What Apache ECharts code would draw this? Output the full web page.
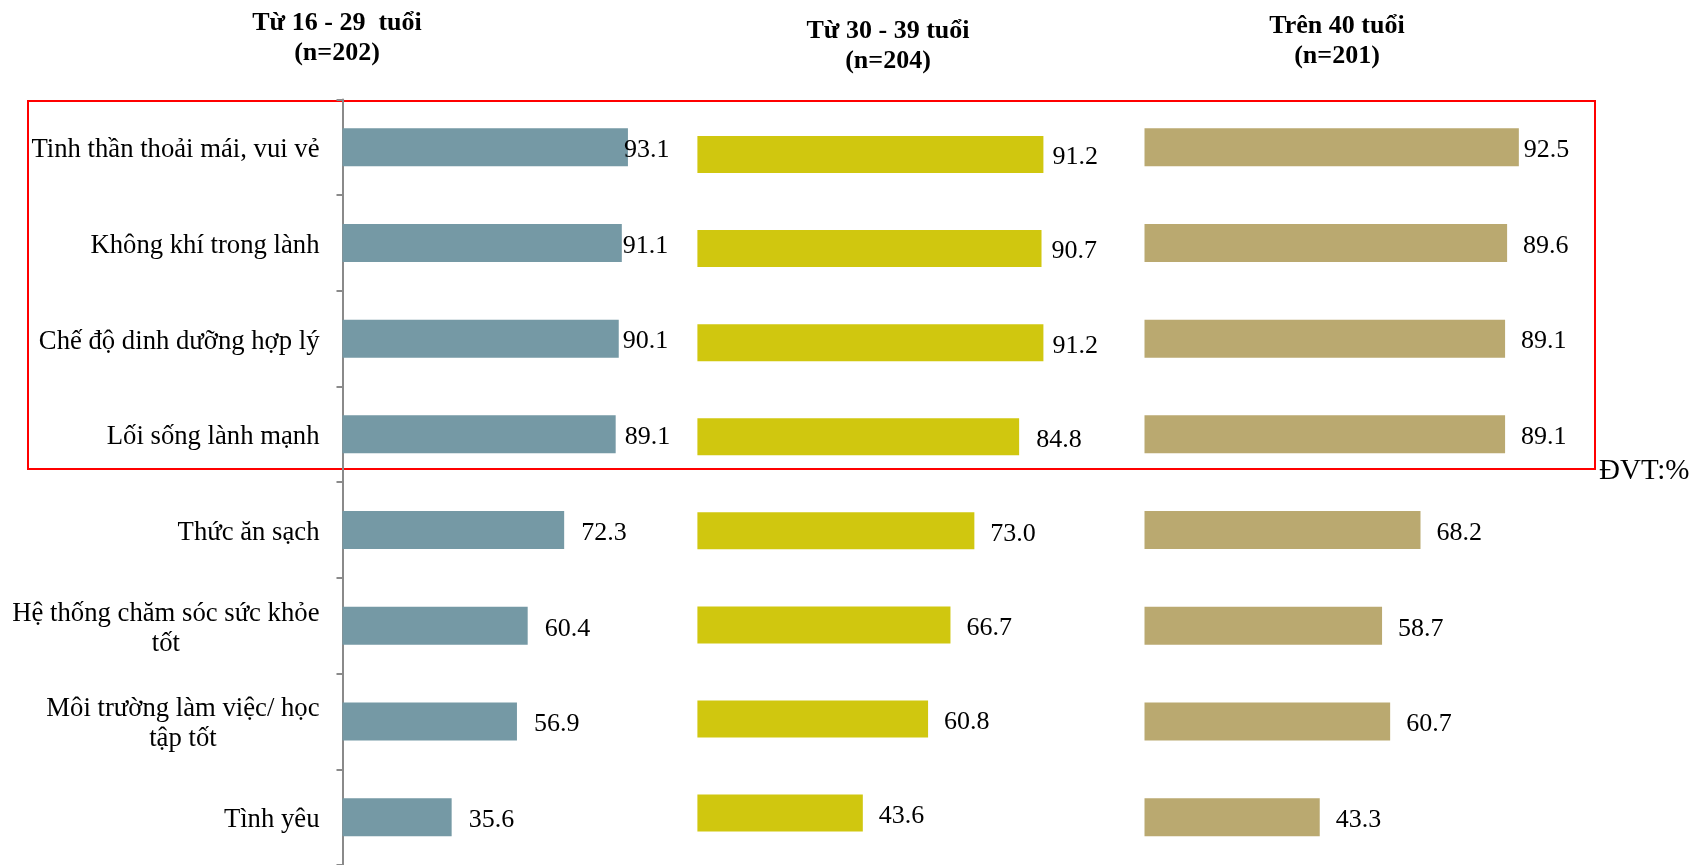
<!DOCTYPE html>
<html>
<head>
<meta charset="utf-8">
<script src="https://cdn.jsdelivr.net/npm/echarts@6/dist/echarts.min.js"></script>
<style>
html,body{margin:0;padding:0;background:#fff;}
#c{width:1706px;height:865px;}
</style>
</head>
<body>
<div id="c"></div>
<script>
// ---- data ----
const categories = [
  'Tinh thần thoải mái, vui vẻ',
  'Không khí trong lành',
  'Chế độ dinh dưỡng hợp lý',
  'Lối sống lành mạnh',
  'Thức ăn sạch',
  'Hệ thống chăm sóc sức khỏe\ntốt',
  'Môi trường làm việc/ học\ntập tốt',
  'Tình yêu'
];
const groupTitles = ['Từ 16 - 29  tuổi\n(n=202)', 'Từ 30 - 39 tuổi\n(n=204)', 'Trên 40 tuổi\n(n=201)'];
const age16to29 = [93.1, 91.1, 90.1, 89.1, 72.3, 60.4, 56.9, 35.6];
const age30to39 = [91.2, 90.7, 91.2, 84.8, 73.0, 66.7, 60.8, 43.6];
const age40plus = [92.5, 89.6, 89.1, 89.1, 68.2, 58.7, 60.7, 43.3];
const unitText = 'ĐVT:%';

// ---- styles / layout ----
const FONT = '"Liberation Serif", "Times New Roman", serif';
const colors = ['#7599a5', '#d0c70f', '#baa970'];
const labelGaps = [
  [-4, 1, 4, 9, 17, 17, 17, 17],
  [9, 10, 9, 17, 16, 16, 16, 16],
  [5, 16, 16, 16, 16, 16, 16, 16]
];
const grids = [
  {left: 342.5, top: 99.4, width: 306.6, height: 768.5},
  {left: 697.4, top: 107.5, width: 379.4, height: 752.6},
  {left: 1144.5, top: 99.4, width: 404.7, height: 768.5}
];
const barWidths = [38, 37, 38];
const seriesValues = [age16to29, age30to39, age40plus];

const chart = echarts.init(document.getElementById('c'), null, {renderer: 'canvas'});

const xAxes = grids.map((g, i) => ({
  type: 'value', gridIndex: i, min: 0, max: 100, show: false
}));
const yAxes = grids.map((g, i) => ({
  type: 'category', gridIndex: i, data: categories, inverse: true,
  axisLine: {show: i === 0, lineStyle: {color: '#8a8a8a', width: 2}},
  axisTick: {show: i === 0, length: 6, lineStyle: {color: '#8a8a8a', width: 2}},
  axisLabel: i === 0 ? {
    show: true, margin: 23, padding: [6, 0, 0, 0],
    formatter: v => v.split('\n').map(l => '{c|' + l + '}').join('\n'),
    rich: {c: {align: 'center', fontFamily: FONT, fontSize: 26.7, color: '#000', lineHeight: 30}}
  } : {show: false},
  splitLine: {show: false}
}));
const series = seriesValues.map((vals, i) => ({
  type: 'bar', xAxisIndex: i, yAxisIndex: i, barWidth: barWidths[i],
  itemStyle: {color: colors[i]},
  silent: true,
  label: {
    show: true, position: 'right', color: '#000', offset: [0, 3],
    fontFamily: FONT, fontSize: 26,
    formatter: p => Number(p.value).toFixed(1)
  },
  data: vals.map((v, j) => ({value: v, label: {distance: labelGaps[i][j]}}))
}));

const headerPos = [[337, 38.5], [888, 46.6], [1337, 41.2]];
const graphic = groupTitles.map((t, i) => ({
  type: 'text', x: headerPos[i][0], y: headerPos[i][1],
  style: {
    text: t, align: 'center', verticalAlign: 'middle',
    fontFamily: FONT, fontSize: 26, fontWeight: 'bold', fill: '#000', lineHeight: 30
  }
}));
graphic.push({
  type: 'rect', shape: {x: 28, y: 101, width: 1567, height: 368},
  style: {fill: 'none', stroke: '#ff0000', lineWidth: 2}
});
graphic.push({
  type: 'text', x: 1599, y: 471,
  style: {text: unitText, align: 'left', verticalAlign: 'middle',
    fontFamily: FONT, fontSize: 29, fill: '#000'}
});

chart.setOption({
  animation: false,
  backgroundColor: '#fff',
  grid: grids.map(g => Object.assign({}, g)),
  xAxis: xAxes,
  yAxis: yAxes,
  series: series,
  graphic: graphic
});
</script>
</body>
</html>
